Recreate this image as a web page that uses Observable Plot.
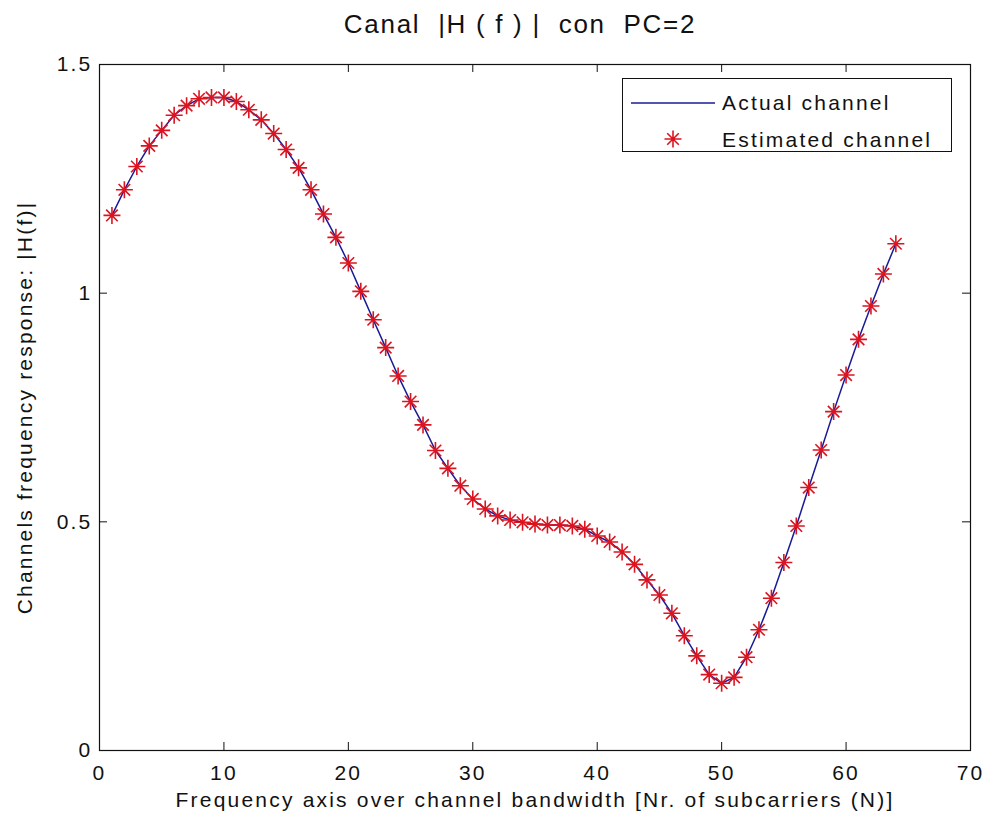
<!DOCTYPE html>
<html>
<head>
<meta charset="utf-8">
<script src="https://cdn.jsdelivr.net/npm/d3@7"></script>
<script src="https://cdn.jsdelivr.net/npm/@observablehq/plot@0.6"></script>
<style>
  body { margin: 0; background: #fff; }
  #wrap { position: relative; width: 986px; height: 826px; background: #fff; }
  #legend { position: absolute; left: 622px; top: 78px; width: 330px; height: 74px; box-sizing: border-box; border: 1px solid #111; background: #fff; }
  #legend svg { position: absolute; left: -1px; top: -1px; overflow: visible; }
  #legend text { font-family: "Liberation Sans", Arial, sans-serif; font-size: 21px; letter-spacing: 2.2px; fill: #111; }
</style>
</head>
<body>
<div id="wrap"></div>
<script>
// ---- data ----
const subcarriers = [1,2,3,4,5,6,7,8,9,10,11,12,13,14,15,16,17,18,19,20,21,22,23,24,25,26,27,28,29,30,31,32,
  33,34,35,36,37,38,39,40,41,42,43,44,45,46,47,48,49,50,51,52,53,54,55,56,57,58,59,60,61,62,63,64];
const actualChannel = [1.170,1.226,1.277,1.322,1.356,1.389,1.410,1.425,1.428,1.428,1.419,1.401,1.379,1.349,1.314,1.274,
  1.226,1.173,1.122,1.066,1.004,0.942,0.881,0.819,0.763,0.712,0.656,0.617,0.579,0.550,0.528,0.513,
  0.504,0.499,0.495,0.493,0.493,0.491,0.484,0.469,0.456,0.434,0.407,0.373,0.340,0.300,0.251,0.207,
  0.166,0.147,0.160,0.204,0.264,0.333,0.411,0.491,0.575,0.657,0.741,0.821,0.899,0.972,1.042,1.108];
const estimatedChannel = [1.170,1.226,1.277,1.322,1.356,1.389,1.410,1.425,1.428,1.428,1.419,1.401,1.379,1.349,1.314,1.274,
  1.226,1.173,1.122,1.066,1.004,0.942,0.881,0.819,0.763,0.712,0.656,0.617,0.579,0.550,0.528,0.513,
  0.504,0.499,0.495,0.493,0.493,0.491,0.484,0.469,0.456,0.434,0.407,0.373,0.340,0.300,0.251,0.207,
  0.166,0.147,0.160,0.204,0.264,0.333,0.411,0.491,0.575,0.657,0.741,0.821,0.899,0.972,1.042,1.108];
const xTicks = [0,10,20,30,40,50,60,70];
const xTickLabels = ["0","10","20","30","40","50","60","70"];
const yTicks = [0,0.5,1,1.5];
const yTickLabels = ["0","0.5","1","1.5"];
const titleText = "Canal\u00A0\u00A0|H\u00A0(\u00A0f\u00A0)\u00A0|\u00A0\u00A0con\u00A0\u00A0PC=2";
const xLabel = "Frequency axis over channel bandwidth [Nr. of subcarriers (N)]";
const yLabel = "Channels frequency response: |H(f)|";
const seriesNames = ["Actual channel", "Estimated channel"];

// ---- layout ----
const W = 986, H = 826, mL = 99, mR = 16, mT = 64, mB = 76;
const plotW = W - mL - mR, plotH = H - mT - mB;
const tickLen = 8;
const lineColor = "#1a1a96";
const markColor = "#dc1420";

const actualRows = subcarriers.map((n, i) => ({n, v: actualChannel[i]}));
const estRows = subcarriers.map((n, i) => ({n, v: estimatedChannel[i]}));

const star8 = {
  draw(ctx, size) {
    const r = Math.sqrt(size / Math.PI), d = r * 0.68;
    ctx.moveTo(-r, 0); ctx.lineTo(r, 0);
    ctx.moveTo(0, -r); ctx.lineTo(0, r);
    ctx.moveTo(-d, -d); ctx.lineTo(d, d);
    ctx.moveTo(-d, d); ctx.lineTo(d, -d);
  }
};

const chart = Plot.plot({
  width: W, height: H,
  marginLeft: mL, marginRight: mR, marginTop: mT, marginBottom: mB,
  style: "font-family: 'Liberation Sans', Arial, sans-serif; font-size: 21px; letter-spacing: 2.2px; background: #fff; color: #111;",
  x: {domain: [0, 70]},
  y: {domain: [0, 1.5]},
  marks: [
    Plot.line(actualRows, {x: "n", y: "v", stroke: lineColor, strokeWidth: 1.5}),
    Plot.dot(estRows, {x: "n", y: "v", symbol: star8, r: 8.5, stroke: markColor, strokeWidth: 1.6, fill: "none"}),
    Plot.frame({stroke: "#111", strokeWidth: 1.2}),
    Plot.tickX(xTicks, {x: d => d, insetTop: plotH - tickLen, stroke: "#111"}),
    Plot.tickX(xTicks, {x: d => d, insetBottom: plotH - tickLen, stroke: "#111"}),
    Plot.tickY(yTicks, {y: d => d, insetRight: plotW - tickLen, stroke: "#111"}),
    Plot.tickY(yTicks, {y: d => d, insetLeft: plotW - tickLen, stroke: "#111"}),
    Plot.axisX(xTicks, {tickSize: 0, tickPadding: 15, label: null, fontSize: 21, tickFormat: d => xTickLabels[xTicks.indexOf(d)]}),
    Plot.axisY(yTicks, {tickSize: 0, tickPadding: 7, label: null, fontSize: 21, tickFormat: d => yTickLabels[yTicks.indexOf(d)]}),
    Plot.text([xLabel], {frameAnchor: "bottom", dy: 50, text: d => d, fontSize: 21, textAnchor: "middle", lineAnchor: "middle", fill: "#111"}),
    Plot.text([yLabel], {frameAnchor: "left", dx: -74, rotate: -90, text: d => d, fontSize: 21, textAnchor: "middle", lineAnchor: "middle", fill: "#111"}),
    Plot.text([titleText], {frameAnchor: "top", dy: -40, dx: -15, text: d => d, fontSize: 26, textAnchor: "middle", lineAnchor: "middle", fill: "#111"})
  ]
});
// title letter spacing
chart.querySelectorAll("text").forEach(t => { if (t.textContent === titleText) t.style.letterSpacing = "1.7px"; });

const wrap = document.getElementById("wrap");
wrap.appendChild(chart);

// ---- legend ----
const lg = document.createElement("div");
lg.id = "legend";
const ns = "http://www.w3.org/2000/svg";
const ls = document.createElementNS(ns, "svg");
ls.setAttribute("width", 330); ls.setAttribute("height", 74);
function el(tag, attrs) { const e = document.createElementNS(ns, tag); for (const k in attrs) e.setAttribute(k, attrs[k]); return e; }
ls.appendChild(el("line", {x1: 9, x2: 93, y1: 25, y2: 25, stroke: lineColor, "stroke-width": 1.5}));
const r = 8.5, d = r * 0.68, cx = 51, cy = 61;
ls.appendChild(el("path", {d: `M${cx-r},${cy}H${cx+r}M${cx},${cy-r}V${cy+r}M${cx-d},${cy-d}L${cx+d},${cy+d}M${cx-d},${cy+d}L${cx+d},${cy-d}`, stroke: markColor, "stroke-width": 1.6, fill: "none"}));
const t1 = el("text", {x: 100, y: 32}); t1.textContent = seriesNames[0]; ls.appendChild(t1);
const t2 = el("text", {x: 100, y: 68.5}); t2.textContent = seriesNames[1]; ls.appendChild(t2);
lg.appendChild(ls);
wrap.appendChild(lg);
</script>
</body>
</html>
